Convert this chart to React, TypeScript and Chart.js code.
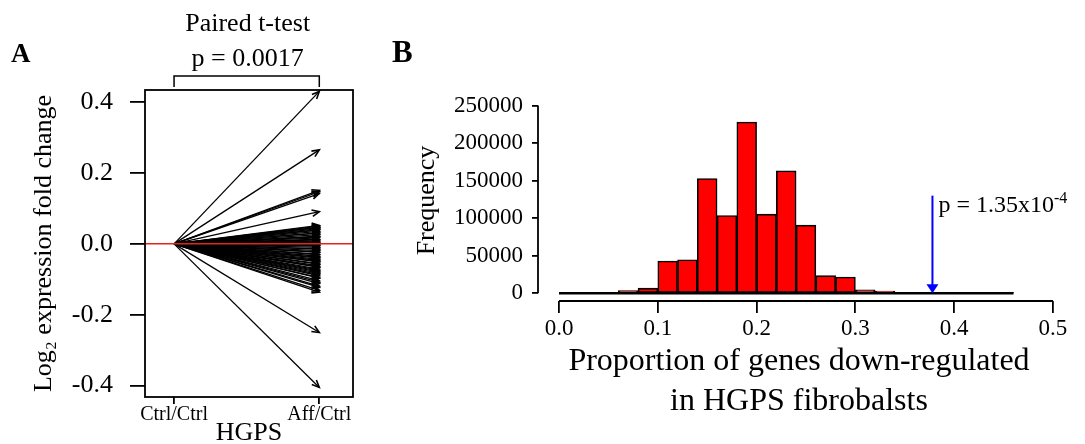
import React, { useEffect, useRef } from "react";
import { Chart, registerables } from "chart.js";

Chart.register(...registerables);

const SERIF = '"Liberation Serif", "Times New Roman", Times, serif';

// ---------- Panel A data ----------
const conditionLabels = ["Ctrl/Ctrl", "Aff/Ctrl"];
const conditionPositions = [1, 2];
const foldChangeTicks = [-0.4, -0.2, 0.0, 0.2, 0.4];
const foldChangeTickLabels = ["-0.4", "-0.2", "0.0", "0.2", "0.4"];
const geneLog2FoldChanges = [
  0.43, 0.265, 0.151, 0.147, 0.142, 0.091,
  0.052, 0.05, 0.047, 0.046, 0.043, 0.04, 0.039, 0.035, 0.031, 0.03, 0.026,
  0.022, 0.02, 0.017, 0.013, 0.011, 0.008, 0.005, 0.003, 0.001,
  -0.002, -0.005, -0.006, -0.01, -0.014, -0.015, -0.019, -0.023, -0.024,
  -0.029, -0.031, -0.035, -0.038, -0.04, -0.044, -0.047, -0.05, -0.051,
  -0.056, -0.058, -0.062, -0.065, -0.066, -0.071, -0.074, -0.077, -0.08,
  -0.083, -0.087, -0.09, -0.095, -0.097, -0.104, -0.108, -0.112, -0.119,
  -0.123, -0.131, -0.136, -0.25, -0.405,
];
const pairedTestTitle = "Paired t-test";
const pairedTestP = "p = 0.0017";

// ---------- Panel B data ----------
const binStarts = [
  0.0, 0.02, 0.04, 0.06, 0.08, 0.1, 0.12, 0.14, 0.16, 0.18, 0.2, 0.22,
  0.24, 0.26, 0.28, 0.3, 0.32, 0.34, 0.36, 0.38, 0.4, 0.42, 0.44,
];
const binWidth = 0.02;
const binCounts = [
  0, 300, 1100, 3500, 6800, 43000, 44700, 152700, 103600, 228000, 105300,
  162900, 90700, 23500, 21700, 4500, 3000, 1200, 400, 150, 60, 30, 10,
];
const proportionTicks = [0, 0.1, 0.2, 0.3, 0.4, 0.5];
const proportionTickLabels = ["0.0", "0.1", "0.2", "0.3", "0.4", "0.5"];
const frequencyTicks = [0, 50000, 100000, 150000, 200000, 250000];
const frequencyTickLabels = ["0", "50000", "100000", "150000", "200000", "250000"];
const observedProportion = 0.378;
const arrowStartCount = 130000;
const pValueBase = "p = 1.35x10";
const pValueExponent = "-4";

const panelAPlugin = {
  id: "panelA",
  afterDatasetsDraw(chart: any) {
    const { ctx, chartArea: ca, scales } = chart;
    const xs = scales.x;
    const ys = scales.y;
    ctx.save();
    // arrowheads
    chart.data.datasets.forEach((_ds: any, i: number) => {
      const meta = chart.getDatasetMeta(i);
      const p0 = meta.data[0];
      const p1 = meta.data[1];
      const ang = Math.atan2(p1.y - p0.y, p1.x - p0.x);
      const L = 8;
      const a = 0.42;
      ctx.beginPath();
      ctx.moveTo(p1.x - L * Math.cos(ang - a), p1.y - L * Math.sin(ang - a));
      ctx.lineTo(p1.x, p1.y);
      ctx.lineTo(p1.x - L * Math.cos(ang + a), p1.y - L * Math.sin(ang + a));
      ctx.strokeStyle = "#000";
      ctx.lineWidth = 1.6;
      ctx.stroke();
    });
    // zero reference line
    const y0 = ys.getPixelForValue(0);
    ctx.beginPath();
    ctx.moveTo(ca.left, y0);
    ctx.lineTo(ca.right, y0);
    ctx.strokeStyle = "#e3221c";
    ctx.lineWidth = 1.5;
    ctx.stroke();
    // box
    ctx.strokeStyle = "#000";
    ctx.lineWidth = 1.8;
    ctx.strokeRect(ca.left, ca.top, ca.right - ca.left, ca.bottom - ca.top);
    // bracket
    const xa = xs.getPixelForValue(conditionPositions[0]);
    const xb = xs.getPixelForValue(conditionPositions[1]);
    ctx.beginPath();
    ctx.moveTo(xa, 87);
    ctx.lineTo(xa, 76);
    ctx.lineTo(xb, 76);
    ctx.lineTo(xb, 87);
    ctx.lineWidth = 1.5;
    ctx.stroke();
    // annotation text
    const cx = (xa + xb) / 2 + 1;
    ctx.fillStyle = "#000";
    ctx.textAlign = "center";
    ctx.textBaseline = "alphabetic";
    ctx.font = `26px ${SERIF}`;
    ctx.fillText(pairedTestTitle, cx, 31);
    ctx.fillText(pairedTestP, cx, 66);
    // panel letter
    ctx.textAlign = "left";
    ctx.font = `bold 27px ${SERIF}`;
    ctx.fillText("A", 11, 62);
    ctx.restore();
  },
};

const panelBPlugin = {
  id: "panelB",
  afterDatasetsDraw(chart: any) {
    const { ctx, chartArea: ca, scales } = chart;
    const xs = scales.x;
    const ys = scales.y;
    ctx.save();
    ctx.strokeStyle = "#000";
    ctx.lineWidth = 1.8;
    // y axis line (R style: spans tick range)
    ctx.beginPath();
    ctx.moveTo(ca.left, ys.getPixelForValue(frequencyTicks[0]));
    ctx.lineTo(ca.left, ys.getPixelForValue(frequencyTicks[frequencyTicks.length - 1]));
    ctx.stroke();
    // x axis line
    ctx.beginPath();
    ctx.moveTo(xs.getPixelForValue(proportionTicks[0]), ca.bottom);
    ctx.lineTo(xs.getPixelForValue(proportionTicks[proportionTicks.length - 1]), ca.bottom);
    ctx.stroke();
    // blue arrow
    const ax = xs.getPixelForValue(observedProportion);
    const ayTop = ys.getPixelForValue(arrowStartCount);
    const ayBot = ys.getPixelForValue(0);
    ctx.strokeStyle = "#0000ff";
    ctx.fillStyle = "#0000ff";
    ctx.lineWidth = 2;
    ctx.beginPath();
    ctx.moveTo(ax, ayTop);
    ctx.lineTo(ax, ayBot - 6);
    ctx.stroke();
    ctx.beginPath();
    ctx.moveTo(ax - 6, ayBot - 9);
    ctx.lineTo(ax + 6, ayBot - 9);
    ctx.lineTo(ax, ayBot);
    ctx.closePath();
    ctx.fill();
    // p-value text
    ctx.fillStyle = "#000";
    ctx.textAlign = "left";
    ctx.textBaseline = "alphabetic";
    ctx.font = `24px ${SERIF}`;
    const tx = ax + 6;
    const ty = ayTop + 16;
    ctx.fillText(pValueBase, tx, ty);
    const w = ctx.measureText(pValueBase).width;
    ctx.font = `16px ${SERIF}`;
    ctx.fillText(pValueExponent, tx + w, ty - 9);
    // panel letter
    ctx.font = `bold 31px ${SERIF}`;
    ctx.fillText("B", 12, 62);
    ctx.restore();
  },
};

function PanelA() {
  const ref = useRef<HTMLCanvasElement>(null);
  useEffect(() => {
    const canvas = ref.current!;
    const datasets = geneLog2FoldChanges.map((v) => ({
      type: "line",
      data: [
        { x: conditionPositions[0], y: 0 },
        { x: conditionPositions[1], y: v },
      ],
      borderColor: "#000",
      borderWidth: 1.3,
      pointRadius: 0,
      fill: false,
      tension: 0,
    }));
    const chart = new Chart(canvas, {
      type: "line",
      data: { datasets } as any,
      options: {
        responsive: false,
        animation: false,
        events: [],
        layout: { padding: { top: 90, right: 27, left: 0, bottom: 0 } },
        plugins: { legend: { display: false }, tooltip: { enabled: false } },
        scales: {
          x: {
            type: "linear",
            min: 0.8,
            max: 2.232,
            offset: false,
            afterBuildTicks: (s: any) => {
              s.ticks = conditionPositions.map((v) => ({ value: v }));
            },
            afterFit: (s: any) => {
              s.height = 47;
            },
            grid: { drawOnChartArea: false, drawTicks: true, tickLength: 7, color: "#000", lineWidth: 1.8, offset: false },
            border: { display: false },
            ticks: {
              autoSkip: false,
              maxRotation: 0,
              padding: -1,
              color: "#000",
              font: { family: SERIF, size: 20 },
              callback: (_v: any, i: number) => conditionLabels[i],
            },
            title: {
              display: true,
              text: "HGPS",
              color: "#000",
              font: { family: SERIF, size: 26, lineHeight: "22px" },
              padding: { top: 0, bottom: 0 },
            },
          },
          y: {
            type: "linear",
            min: -0.432,
            max: 0.434,
            afterBuildTicks: (s: any) => {
              s.ticks = foldChangeTicks.map((v) => ({ value: v }));
            },
            afterFit: (s: any) => {
              s.width = 145;
            },
            grid: { drawOnChartArea: false, drawTicks: true, tickLength: 15, color: "#000", lineWidth: 1.8 },
            border: { display: false },
            ticks: {
              padding: 17,
              color: "#000",
              font: { family: SERIF, size: 26 },
              callback: (_v: any, i: number) => foldChangeTickLabels[i],
            },
            title: {
              display: true,
              text: "Log\u2082 expression fold change",
              color: "#000",
              font: { family: SERIF, size: 26 },
              padding: { top: 29, bottom: 0 },
            },
          },
        },
      } as any,
      plugins: [panelAPlugin],
    });
    return () => chart.destroy();
  }, []);
  return (
    <canvas
      ref={ref}
      width={380}
      height={444}
      style={{ position: "absolute", left: 0, top: 0, width: 380, height: 444 }}
    />
  );
}

function PanelB() {
  const ref = useRef<HTMLCanvasElement>(null);
  useEffect(() => {
    const canvas = ref.current!;
    const last = binStarts.length - 1;
    const chart = new Chart(canvas, {
      type: "bar",
      data: {
        datasets: [
          {
            type: "bar",
            data: binStarts.map((s, i) => ({ x: s + binWidth / 2, y: binCounts[i] })),
            backgroundColor: "#ff0000",
            borderColor: "#000",
            borderWidth: 1.6,
            borderSkipped: false,
            barPercentage: 1,
            categoryPercentage: 1,
            order: 2,
          },
          {
            type: "line",
            data: [
              { x: binStarts[0], y: 0 },
              { x: binStarts[last] + binWidth, y: 0 },
            ],
            borderColor: "#000",
            borderWidth: 2.5,
            pointRadius: 0,
            fill: false,
            order: 1,
          },
        ],
      } as any,
      options: {
        responsive: false,
        animation: false,
        events: [],
        layout: { padding: { top: 100, right: 25, left: 0, bottom: 0 } },
        plugins: { legend: { display: false }, tooltip: { enabled: false } },
        scales: {
          x: {
            type: "linear",
            min: -0.02126,
            max: 0.5071,
            offset: false,
            afterBuildTicks: (s: any) => {
              s.ticks = proportionTicks.map((v) => ({ value: v }));
            },
            afterFit: (s: any) => {
              s.height = 143;
            },
            grid: { drawOnChartArea: false, drawTicks: true, tickLength: 12, color: "#000", lineWidth: 1.8, offset: false },
            border: { display: false },
            ticks: {
              autoSkip: false,
              maxRotation: 0,
              padding: 2,
              color: "#000",
              font: { family: SERIF, size: 23 },
              callback: (_v: any, i: number) => proportionTickLabels[i],
            },
            title: {
              display: true,
              text: ["Proportion of genes down-regulated", "in HGPS fibrobalsts"],
              color: "#000",
              font: { family: SERIF, size: 32, lineHeight: "40px" },
              padding: { top: 0, bottom: 22 },
            },
          },
          y: {
            type: "linear",
            min: -10250,
            max: 257322,
            afterBuildTicks: (s: any) => {
              s.ticks = frequencyTicks.map((v) => ({ value: v }));
            },
            afterFit: (s: any) => {
              s.width = 158;
            },
            grid: { drawOnChartArea: false, drawTicks: true, tickLength: 6, color: "#000", lineWidth: 1.8 },
            border: { display: false },
            ticks: {
              padding: 9,
              color: "#000",
              font: { family: SERIF, size: 23 },
              callback: (_v: any, i: number) => frequencyTickLabels[i],
            },
            title: {
              display: true,
              text: "Frequency",
              color: "#000",
              font: { family: SERIF, size: 26 },
              padding: { top: 32, bottom: 0 },
            },
          },
        },
      } as any,
      plugins: [panelBPlugin],
    });
    return () => chart.destroy();
  }, []);
  return (
    <canvas
      ref={ref}
      width={705}
      height={444}
      style={{ position: "absolute", left: 380, top: 0, width: 705, height: 444 }}
    />
  );
}

export default function App() {
  return (
    <div
      style={{
        position: "absolute",
        left: 0,
        top: 0,
        width: 1085,
        height: 444,
        background: "#fff",
        overflow: "hidden",
      }}
    >
      <PanelA />
      <PanelB />
    </div>
  );
}
